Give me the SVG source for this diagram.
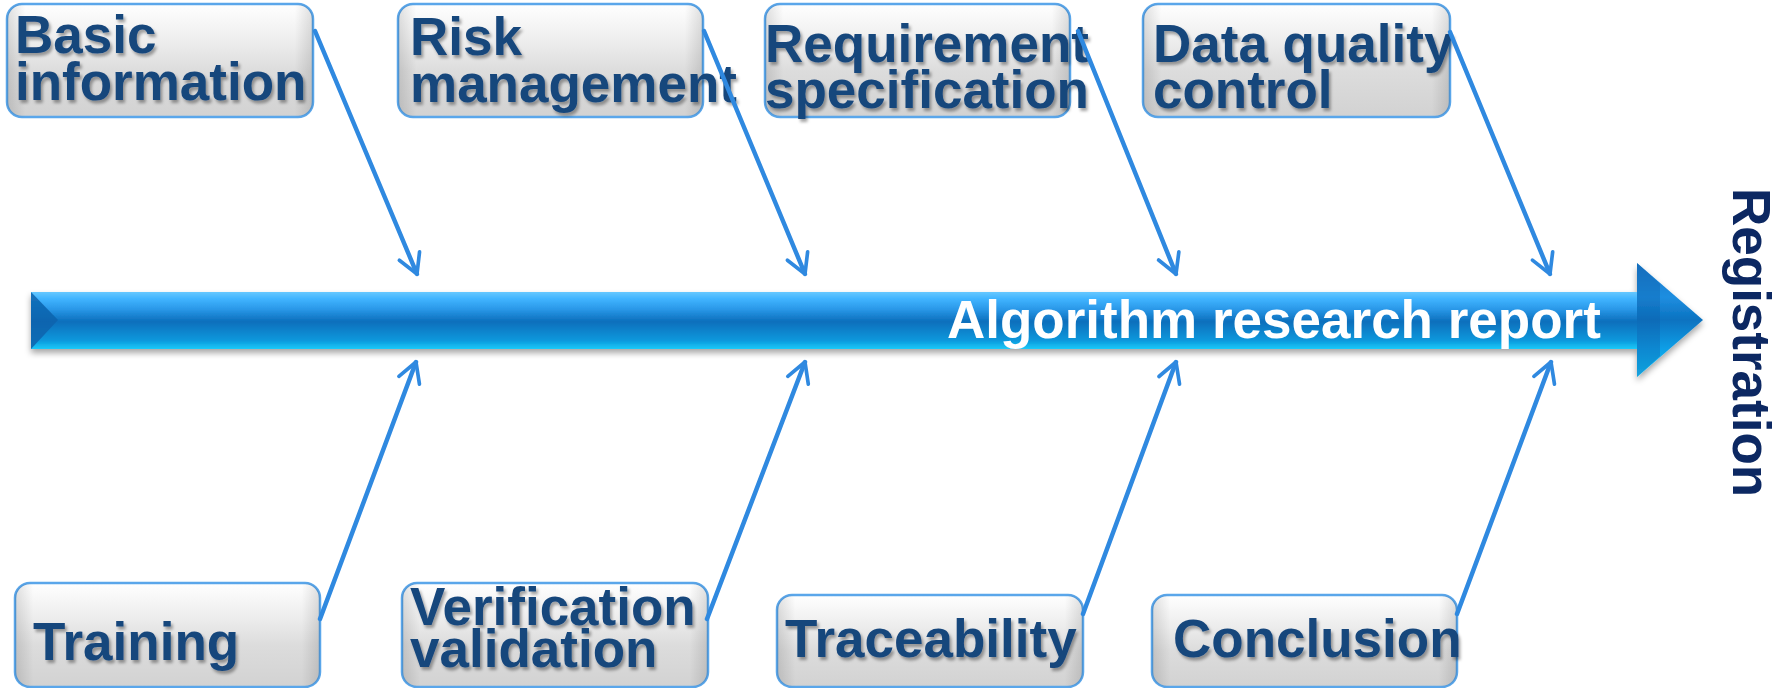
<svg xmlns="http://www.w3.org/2000/svg" width="1788" height="688" viewBox="0 0 1788 688">
  <defs>
    <linearGradient id="boxFill" x1="0" y1="0" x2="0" y2="1">
      <stop offset="0" stop-color="#ffffff"/>
      <stop offset="0.35" stop-color="#ececec"/>
      <stop offset="0.6" stop-color="#dcdcdc"/>
      <stop offset="1" stop-color="#d2d2d2"/>
    </linearGradient>
    <linearGradient id="boxEdge" x1="0" y1="0" x2="1" y2="0">
      <stop offset="0" stop-color="#000" stop-opacity="0.12"/>
      <stop offset="0.06" stop-color="#000" stop-opacity="0"/>
      <stop offset="0.94" stop-color="#000" stop-opacity="0"/>
      <stop offset="1" stop-color="#000" stop-opacity="0.12"/>
    </linearGradient>
    <linearGradient id="shaftFill" x1="0" y1="292" x2="0" y2="349" gradientUnits="userSpaceOnUse">
      <stop offset="0" stop-color="#66c8ff"/>
      <stop offset="0.12" stop-color="#40b4ff"/>
      <stop offset="0.3" stop-color="#2a98e8"/>
      <stop offset="0.52" stop-color="#0a6fbc"/>
      <stop offset="0.85" stop-color="#0a98dc"/>
      <stop offset="1" stop-color="#1ccaf9"/>
    </linearGradient>
    <linearGradient id="headFill" x1="0" y1="263" x2="0" y2="377" gradientUnits="userSpaceOnUse">
      <stop offset="0" stop-color="#1676c8"/>
      <stop offset="0.3" stop-color="#1f8ee0"/>
      <stop offset="0.5" stop-color="#0a72c0"/>
      <stop offset="0.75" stop-color="#0d9ee6"/>
      <stop offset="1" stop-color="#1ac8fa"/>
    </linearGradient>
    <filter id="textShadow" x="-10%" y="-20%" width="120%" height="150%">
      <feDropShadow dx="2" dy="3" stdDeviation="1.6" flood-color="#000" flood-opacity="0.35"/>
    </filter>
    <filter id="arrowShadow" x="-5%" y="-30%" width="110%" height="170%">
      <feDropShadow dx="0" dy="4" stdDeviation="3" flood-color="#000" flood-opacity="0.35"/>
    </filter>
    <marker id="chevron" viewBox="0 0 12 12" refX="10" refY="6" markerWidth="6.5" markerHeight="6.5" markerUnits="strokeWidth" orient="auto">
      <path d="M2,1.5 L10,6 L2,10.5" fill="none" stroke="#2f89e0" stroke-width="1.5" stroke-linecap="round" stroke-linejoin="round"/>
    </marker>
    <style>
      .box { fill: url(#boxFill); stroke: #5aa6ea; stroke-width: 2.5; }
      .edge { fill: url(#boxEdge); stroke: none; }
      .label { font-family: "Liberation Sans", Arial, sans-serif; font-weight: bold; font-size: 53px; fill: #17467c; filter: url(#textShadow); }
      .spine-label { font-family: "Liberation Sans", Arial, sans-serif; font-weight: bold; font-size: 53px; fill: #ffffff; }
      .goal { font-family: "Liberation Sans", Arial, sans-serif; font-weight: bold; font-size: 53px; fill: #0c2862; }
      .conn { fill: none; stroke: #2f89e0; stroke-width: 4.5; stroke-linecap: round; marker-end: url(#chevron); }
    </style>
  </defs>

  <rect width="1788" height="688" fill="#ffffff"/>

  <!-- main spine arrow -->
  <g id="spine" filter="url(#arrowShadow)">
    <rect x="31" y="292" width="1608" height="57" fill="url(#shaftFill)"/>
    <polygon points="31,292 58,320 31,349" fill="#0b63ad" opacity="0.85"/>
    <polygon points="1637,263 1703,320 1637,377" fill="url(#headFill)"/>
    <polygon points="1637,263 1660,284 1660,356 1637,377" fill="#0a5fa8" opacity="0.35"/>
    <text class="spine-label" x="947" y="338">Algorithm research report</text>
  </g>

  <!-- goal label -->
  <g id="registration">
    <text class="goal" transform="translate(1733,188) rotate(90)">Registration</text>
  </g>

  <!-- cause boxes, upper row -->
  <g id="basic-information">
    <rect class="box" x="7" y="4" width="306" height="113" rx="15"/>
    <rect class="edge" x="7" y="4" width="306" height="113" rx="15"/>
    <text class="label" x="15" y="53">Basic</text>
    <text class="label" x="15" y="100">information</text>
  </g>
  <g id="risk-management">
    <rect class="box" x="398" y="4" width="305" height="113" rx="15"/>
    <rect class="edge" x="398" y="4" width="305" height="113" rx="15"/>
    <text class="label" x="410" y="55">Risk</text>
    <text class="label" x="410" y="102">management</text>
  </g>
  <g id="requirement-specification">
    <rect class="box" x="765" y="4" width="305" height="113" rx="15"/>
    <rect class="edge" x="765" y="4" width="305" height="113" rx="15"/>
    <text class="label" x="765" y="62">Requirement</text>
    <text class="label" x="765" y="108">specification</text>
  </g>
  <g id="data-quality-control">
    <rect class="box" x="1143" y="4" width="307" height="113" rx="15"/>
    <rect class="edge" x="1143" y="4" width="307" height="113" rx="15"/>
    <text class="label" x="1153" y="62">Data quality</text>
    <text class="label" x="1153" y="108">control</text>
  </g>

  <!-- cause boxes, lower row -->
  <g id="training">
    <rect class="box" x="15" y="583" width="305" height="104" rx="15"/>
    <rect class="edge" x="15" y="583" width="305" height="104" rx="15"/>
    <text class="label" x="33" y="660">Training</text>
  </g>
  <g id="verification-validation">
    <rect class="box" x="402" y="583" width="306" height="104" rx="15"/>
    <rect class="edge" x="402" y="583" width="306" height="104" rx="15"/>
    <text class="label" x="410" y="625">Verification</text>
    <text class="label" x="410" y="667">validation</text>
  </g>
  <g id="traceability">
    <rect class="box" x="777" y="595" width="306" height="92" rx="15"/>
    <rect class="edge" x="777" y="595" width="306" height="92" rx="15"/>
    <text class="label" x="785" y="657">Traceability</text>
  </g>
  <g id="conclusion">
    <rect class="box" x="1152" y="595" width="305" height="92" rx="15"/>
    <rect class="edge" x="1152" y="595" width="305" height="92" rx="15"/>
    <text class="label" x="1173" y="657">Conclusion</text>
  </g>

  <!-- connectors from causes to the spine -->
  <g id="connectors">
    <line class="conn" x1="315" y1="31" x2="417" y2="274"/>
    <line class="conn" x1="704" y1="31" x2="805" y2="274"/>
    <line class="conn" x1="1078" y1="31" x2="1176" y2="274"/>
    <line class="conn" x1="1450" y1="32" x2="1550" y2="274"/>
    <line class="conn" x1="320" y1="619" x2="416" y2="362"/>
    <line class="conn" x1="707" y1="619" x2="805" y2="362"/>
    <line class="conn" x1="1083" y1="614" x2="1176" y2="362"/>
    <line class="conn" x1="1457" y1="614" x2="1551" y2="362"/>
  </g>
</svg>
